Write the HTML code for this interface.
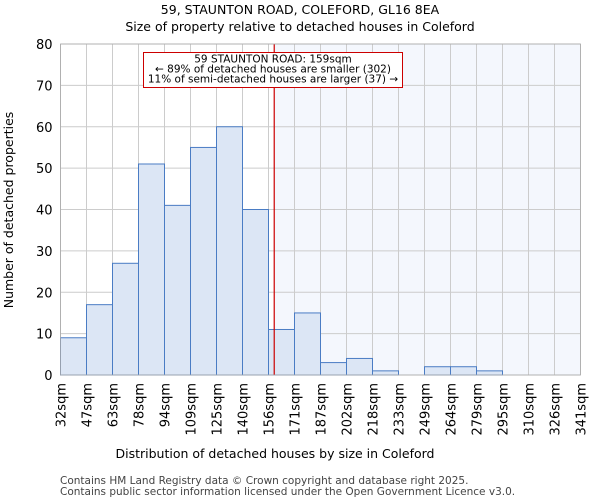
<!DOCTYPE html>
<html><head><meta charset="utf-8"><style>
body{margin:0;background:#fff;font-family:"DejaVu Sans","Liberation Sans",sans-serif}
</style></head><body>
<svg id="chart" width="600" height="500" xmlns="http://www.w3.org/2000/svg" font-family="DejaVu Sans, Liberation Sans, sans-serif">
<text x="300" y="14" font-size="12.5" text-anchor="middle">59, STAUNTON ROAD, COLEFORD, GL16 8EA</text>
<text x="300" y="31" font-size="12.5" text-anchor="middle">Size of property relative to detached houses in Coleford</text>
<g id="plot"></g>
<text x="275" y="458" font-size="12.5" text-anchor="middle">Distribution of detached houses by size in Coleford</text>
<text transform="translate(13,210) rotate(-90)" font-size="12.5" text-anchor="middle">Number of detached properties</text>
<text x="60" y="484" font-size="10.5" fill="#444">Contains HM Land Registry data © Crown copyright and database right 2025.</text>
<text x="60" y="495" font-size="10.5" fill="#444">Contains public sector information licensed under the Open Government Licence v3.0.</text>
</svg>
<script>
const binLabels=["32sqm","47sqm","63sqm","78sqm","94sqm","109sqm","125sqm","140sqm","156sqm","171sqm","187sqm","202sqm","218sqm","233sqm","249sqm","264sqm","279sqm","295sqm","310sqm","326sqm","341sqm"];
const counts=[9,17,27,51,41,55,60,40,11,15,3,4,1,0,2,2,1,0,0,0];
const yTicks=[0,10,20,30,40,50,60,70,80];
const xMin=32,xMax=341,propertySize=159;
const L=60.5,R=580.5,T=44,B=375,yMax=80;
const ns="http://www.w3.org/2000/svg";
const g=document.getElementById('plot');
const n=counts.length,bw=(R-L)/n;
const xb=i=>L+i*bw;
const xv=v=>L+(v-xMin)/(xMax-xMin)*(R-L);
const y=v=>B-v/yMax*(B-T);
function mk(t,a){const e=document.createElementNS(ns,t);for(const k in a)e.setAttribute(k,a[k]);g.appendChild(e);return e;}
const px=xv(propertySize);
let e=mk('rect',{x:px,y:T,width:R-px,height:B-T,fill:'#f4f7fd'});


yTicks.forEach(t=>{let l=mk('line',{x1:L,x2:R,y1:y(t),y2:y(t),stroke:'#ccc','stroke-width':1});


let tx=mk('text',{x:L-8,y:y(t)+5,'font-size':13,'text-anchor':'end'});tx.textContent=t;

});
binLabels.forEach((s,i)=>{let l=mk('line',{x1:xb(i),x2:xb(i),y1:T,y2:B,stroke:'#ccc','stroke-width':1});


let tx=mk('text',{transform:`translate(${xb(i)+5},${B+8}) rotate(-90)`,'font-size':13,'text-anchor':'end'});tx.textContent=s;

});
counts.forEach((c,i)=>{if(c<=0)return;let r=mk('rect',{x:xb(i),y:y(c),width:bw,height:B-y(c),fill:'#dce6f5',stroke:'#4a7cc4','stroke-width':1});

});
e=mk('line',{x1:px,x2:px,y1:T,y2:B,stroke:'#cc0000','stroke-width':1.2});


e=mk('rect',{x:143.5,y:52.5,width:259,height:35,fill:'#fff',stroke:'#cc0000','stroke-width':1});


["59 STAUNTON ROAD: 159sqm","← 89% of detached houses are smaller (302)","11% of semi-detached houses are larger (37) →"].forEach((s,i)=>{let t=mk('text',{x:273,y:62.5+i*10,'font-size':10.5,'text-anchor':'middle'});t.textContent=s;

});
e=mk('rect',{x:L,y:T,width:R-L,height:B-T,fill:'none',stroke:'#aaa','stroke-width':0.8});


</script>
</body></html>
